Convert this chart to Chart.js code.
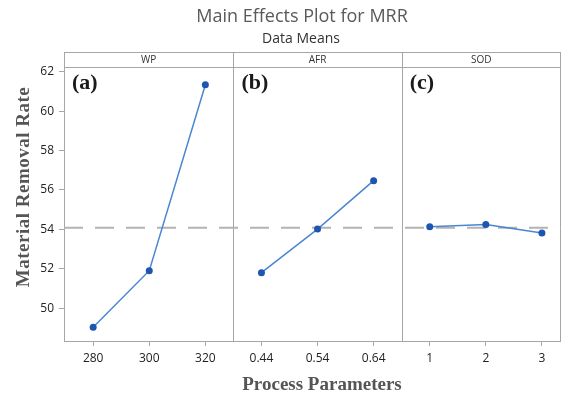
<!DOCTYPE html>
<html>
<head>
<meta charset="utf-8">
<script src="https://cdn.jsdelivr.net/npm/chart.js@4/dist/chart.umd.min.js"></script>
<style>
  html, body { margin: 0; padding: 0; background: #fff; }
</style>
</head>
<body>
<canvas id="mainEffects" width="565" height="394"></canvas>
<script>
// factor levels (tick labels) and mean MRR at each level
const factorNames = ['WP', 'AFR', 'SOD'];
const panelTags = ['(a)', '(b)', '(c)'];
const wpLevels = ['280', '300', '320'];
const afrLevels = ['0.44', '0.54', '0.64'];
const sodLevels = ['1', '2', '3'];
const wpMeans = [49.03, 51.90, 61.34];
const afrMeans = [51.80, 54.01, 56.47];
const sodMeans = [54.13, 54.25, 53.81];
const yTicks = [50, 52, 54, 56, 58, 60, 62];

const levelLabels = [...wpLevels, ...afrLevels, ...sodLevels];
const allMeans = [...wpMeans, ...afrMeans, ...sodMeans];
const grandMean = allMeans.reduce((a, b) => a + b, 0) / allMeans.length;

const X_MIN = -0.52, X_MAX = 8.34;
const SANS = '"Open Sans", "Noto Sans", sans-serif';
const SERIF = '"Liberation Serif", "DejaVu Serif", serif';
const LINE = '#4a86d2';
const MARK = '#1d55b0';
const FRAME = '#a6a6a6';

// each factor sits in its own panel: x = panel * 3 + level index
function panelPoints(values, panel) {
  return values.map((v, i) => ({ x: panel * 3 + i, y: v }));
}

function factorSet(values, panel) {
  return {
    data: panelPoints(values, panel),
    borderColor: LINE,
    borderWidth: 1.5,
    pointRadius: 3.5,
    pointBackgroundColor: MARK,
    pointBorderColor: MARK,
    pointBorderWidth: 0,
    order: 1
  };
}

// panel frame, strip headers, dividers and all free text
const panelDecor = {
  id: 'panelDecor',
  beforeDatasetsDraw(chart) {
    const { ctx, chartArea: a, scales: { x } } = chart;
    const top = a.top - 15;
    ctx.save();
    ctx.strokeStyle = FRAME;
    ctx.lineWidth = 1;
    ctx.strokeRect(a.left + 0.5, top + 0.5, a.right - a.left - 1, a.bottom - top);
    ctx.beginPath();
    ctx.moveTo(a.left, a.top + 0.5);
    ctx.lineTo(a.right, a.top + 0.5);
    [2.5, 5.5].forEach(v => {
      const px = Math.round(x.getPixelForValue(v)) + 0.5;
      ctx.moveTo(px, top);
      ctx.lineTo(px, a.bottom);
    });
    ctx.stroke();

    const edges = [a.left, x.getPixelForValue(2.5), x.getPixelForValue(5.5), a.right];
    ctx.fillStyle = '#333';
    ctx.font = '10px ' + SANS;
    ctx.textAlign = 'center';
    ctx.textBaseline = 'middle';
    factorNames.forEach((name, i) => {
      ctx.fillText(name, (edges[i] + edges[i + 1]) / 2, top + 8);
    });

    ctx.fillStyle = '#1a1a1a';
    ctx.font = 'bold 22px ' + SERIF;
    ctx.textAlign = 'left';
    ctx.textBaseline = 'alphabetic';
    panelTags.forEach((tag, i) => {
      ctx.fillText(tag, edges[i] + 8, a.top + 22);
    });
    ctx.restore();
  },
  afterDraw(chart) {
    const { ctx } = chart;
    ctx.save();
    ctx.textAlign = 'center';
    ctx.textBaseline = 'alphabetic';
    ctx.fillStyle = '#595959';
    ctx.font = '18px ' + SANS;
    ctx.fillText('Main Effects Plot for MRR', 302, 22);
    ctx.fillStyle = '#333';
    ctx.font = '14px ' + SANS;
    ctx.fillText('Data Means', 301, 43);

    ctx.fillStyle = '#555';
    ctx.font = 'bold 19px ' + SERIF;
    ctx.fillText('Process Parameters', 322, 390);

    ctx.translate(29, 187);
    ctx.rotate(-Math.PI / 2);
    ctx.font = 'bold 19px ' + SERIF;
    ctx.letterSpacing = '0.5px';
    ctx.fillText('Material Removal Rate', 0, 0);
    ctx.restore();
  }
};

new Chart(document.getElementById('mainEffects'), {
  type: 'line',
  data: {
    datasets: [
      factorSet(wpMeans, 0),
      factorSet(afrMeans, 1),
      factorSet(sodMeans, 2),
      {
        // grand mean reference line across all panels
        data: [{ x: X_MIN, y: grandMean }, { x: X_MAX, y: grandMean }],
        borderColor: '#b3b3b3',
        borderWidth: 2,
        borderDash: [19, 12],
        pointRadius: 0,
        order: 10
      }
    ]
  },
  options: {
    responsive: false,
    animation: false,
    layout: { padding: { top: 67, right: 3, left: 0, bottom: 0 } },
    plugins: { legend: { display: false }, tooltip: { enabled: false } },
    scales: {
      x: {
        type: 'linear',
        min: X_MIN,
        max: X_MAX,
        afterBuildTicks: s => { s.ticks = levelLabels.map((_, i) => ({ value: i })); },
        afterFit: s => { s.height = 53; },
        border: { display: false },
        grid: { drawOnChartArea: false, tickLength: 5, color: FRAME },
        ticks: {
          padding: 5,
          maxRotation: 0,
          autoSkip: false,
          color: '#222',
          font: { family: SANS, size: 12 },
          callback: v => levelLabels[v]
        }
      },
      y: {
        min: 48.33,
        max: 62.24,
        afterBuildTicks: s => { s.ticks = yTicks.map(v => ({ value: v })); },
        afterFit: s => { s.width = 64; },
        border: { display: false },
        grid: { drawOnChartArea: false, tickLength: 5, color: FRAME },
        ticks: {
          padding: 5,
          color: '#222',
          font: { family: SANS, size: 12 }
        }
      }
    }
  },
  plugins: [panelDecor]
});
</script>
</body>
</html>
